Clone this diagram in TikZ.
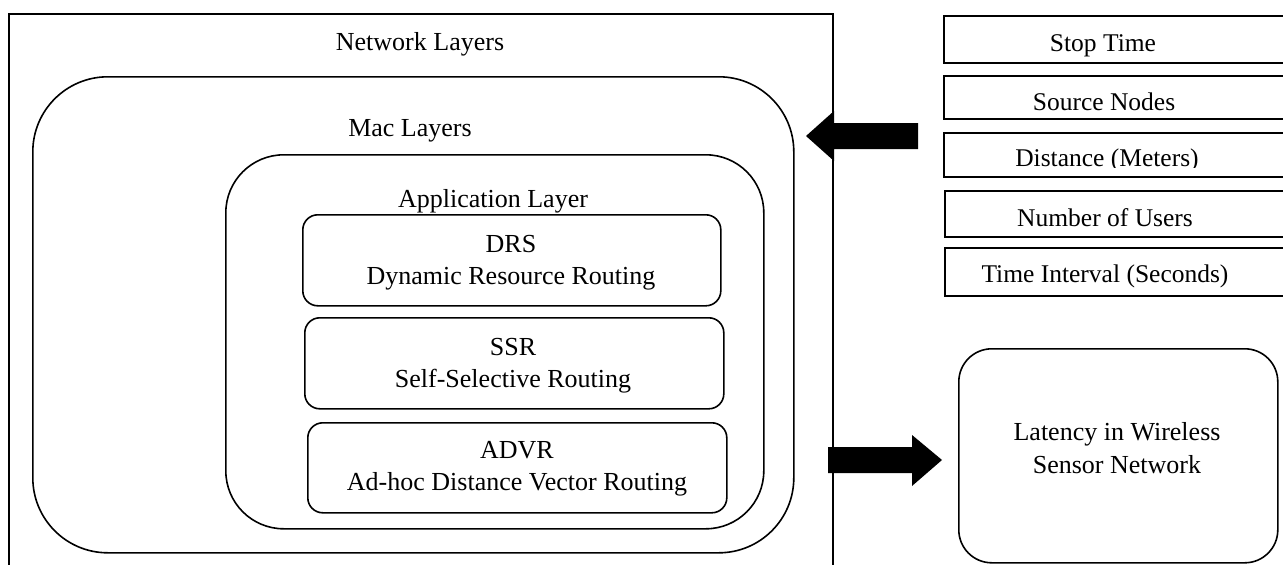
\documentclass[tikz,border=0pt]{standalone}
\usepackage{fontspec}
\setmainfont{Liberation Serif}
\begin{document}
\begin{tikzpicture}[x=1pt,y=-1pt,
  box/.style={draw, line width=1.6pt, inner sep=0pt, anchor=north west},
  txt/.style={font=\fontsize{26}{32}\selectfont, inner sep=0pt, anchor=base},
  rtxt/.style={font=\fontsize{25.5}{32}\selectfont, inner sep=0pt, anchor=base},
  blk/.style={fill=black, draw=none}]
\useasboundingbox (0,0) rectangle (1283,565);
\clip (0,0) rectangle (1283,565);
\fill[white] (0,0) rectangle (1283,565);

% nested layers
\node[box, minimum width=824pt, minimum height=600pt] (net) at (8,13) {};
\node[box, rounded corners=75pt, minimum width=761pt, minimum height=476pt] (mac) at (32,76) {};
\node[box, rounded corners=58pt, minimum width=538pt, minimum height=374pt] (app) at (225,154) {};
\node[box, rounded corners=15pt, minimum width=418pt, minimum height=91pt] (drs) at (302,214) {};
\node[box, rounded corners=15pt, minimum width=419pt, minimum height=91pt] (ssr) at (304,317) {};
\node[box, rounded corners=15pt, minimum width=419pt, minimum height=90pt] (advr) at (307,422) {};

\node[txt] (tNet) at (420,50) {Network Layers};
\node[txt] (tMac) at (410,136) {Mac Layers};
\node[txt] (tApp) at (493,207) {Application Layer};
\node[txt] (tDrsA) at (511,252) {DRS};
\node[txt] (tDrsB) at (511,284) {Dynamic Resource Routing};
\node[txt] (tSsrA) at (513,355) {SSR};
\node[txt] (tSsrB) at (513,387) {Self-Selective Routing};
\node[txt] (tAdvA) at (517,458) {ADVR};
\node[txt] (tAdvB) at (517,490) {Ad-hoc Distance Vector Routing};

% parameter boxes
\node[box, minimum width=360pt, minimum height=47pt] (stop) at (943,15) {};
\node[box, minimum width=360pt, minimum height=43pt] (src) at (943,75) {};
\node[box, minimum width=360pt, minimum height=44pt] (dist) at (943,132) {};
\node[box, minimum width=360pt, minimum height=46pt] (users) at (944,190) {};
\node[box, minimum width=360pt, minimum height=48pt] (tint) at (944,247) {};

\node[rtxt] (tStop) at (1103,51) {Stop Time};
\node[rtxt] (tSrc) at (1104,110) {Source Nodes};
\begin{scope}
\clip (943,132) rectangle (1283,167.5);
\node[rtxt] (tDist) at (1107,166) {Distance (Meters)};
\end{scope}
\node[rtxt] (tUsers) at (1105,226) {Number of Users};
\node[rtxt] (tTint) at (1105,282) {Time Interval (Seconds)};

% result box
\node[box, rounded corners=33pt, minimum width=319pt, minimum height=214pt] (lat) at (958,348) {};
\node[txt] (tLatA) at (1117,440) {Latency in Wireless};
\node[txt] (tLatB) at (1117,473) {Sensor Network};

% block arrows
\coordinate (inTail) at (918,136);
\coordinate (inTip) at (806,136);
\fill[blk] (inTail) ++(0,-13) -- ++(-84,0) -- ++(0,-12) -- (inTip) -- ++(28,25) -- ++(0,-12) -- ++(84,0) -- cycle;

\coordinate (outTail) at (828,460);
\coordinate (outTip) at (942,460);
\fill[blk] (outTail) ++(0,-13) -- ++(84,0) -- ++(0,-12) -- (outTip) -- ++(-30,26) -- ++(0,-13) -- ++(-84,0) -- cycle;
\end{tikzpicture}
\end{document}
